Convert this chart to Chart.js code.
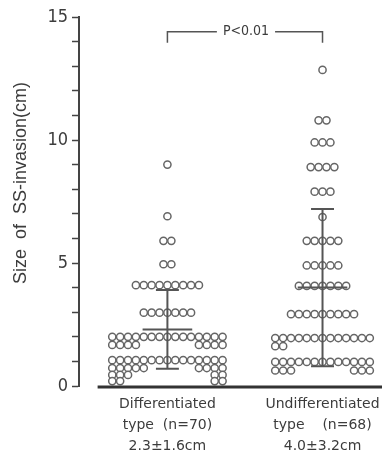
<!DOCTYPE html>
<html>
<head>
<meta charset="utf-8">
<script src="https://cdn.jsdelivr.net/npm/chart.js@4.4.1/dist/chart.umd.min.js"></script>
<style>
  html, body { margin: 0; padding: 0; background: #fff; }
  #wrap { width: 382px; height: 462px; position: relative; }
</style>
</head>
<body>
<div id="wrap"><canvas id="dotChart"></canvas></div>
<script>
// --- datos ---
const groupPos = [1, 2];
const groupLabels = [
  ['Differentiated', 'type  (n=70)', '2.3\u00b11.6cm'],
  ['Undifferentiated', 'type    (n=68)', '4.0\u00b13.2cm']
];
const means = [2.3, 4.0];
const sds = [1.6, 3.2];
const pText = 'P<0.01';

// filas de puntos: valor, cuantos centrados, cuantos pegados a izquierda / derecha
const diffRowY = [9, 6.9, 5.9, 4.95, 4.1, 2.98, 2.0, 1.67, 1.05, 0.73, 0.45, 0.2];
const diffRowN = [1, 1, 2, 2, 9, 7, 15, 0, 15, 0, 0, 0];
const diffRowL = [0, 0, 0, 0, 0, 0, 0, 4, 0, 5, 3, 2];
const diffRowR = [0, 0, 0, 0, 0, 0, 0, 4, 0, 4, 2, 2];

const undiffRowY = [12.85, 10.8, 9.9, 8.9, 7.9, 6.87, 5.9, 4.9, 4.07, 2.92, 1.95, 1.62, 0.98, 0.63];
const undiffRowN = [1, 2, 3, 4, 3, 1, 5, 5, 7, 9, 13, 0, 13, 0];
const undiffRowL = [0, 0, 0, 0, 0, 0, 0, 0, 0, 0, 0, 2, 0, 3];
const undiffRowR = [0, 0, 0, 0, 0, 0, 0, 0, 0, 0, 0, 0, 0, 3];

const yTickValues = [0, 5, 10, 15];

// --- layout ---
const dotStep = 0.0508;   // separacion horizontal entre puntos (unidades de x)

function buildDots(center, rowY, rowN, rowL, rowR) {
  const full = Math.max(...rowN);
  const pts = [];
  rowY.forEach((v, r) => {
    for (let j = 0; j < rowN[r]; j++) {
      pts.push({ x: center + (j - (rowN[r] - 1) / 2) * dotStep, y: v });
    }
    for (let j = 0; j < rowL[r]; j++) {
      pts.push({ x: center + (j - (full - 1) / 2) * dotStep, y: v });
    }
    for (let j = 0; j < rowR[r]; j++) {
      pts.push({ x: center + ((full - 1 - j) - (full - 1) / 2) * dotStep, y: v });
    }
  });
  return pts;
}

const dotStyle = {
  pointRadius: 3.6,
  pointBorderWidth: 1.5,
  pointBorderColor: '#666',
  pointBackgroundColor: '#ffffff',
  showLine: false
};

// Dibujo de barras de error, linea base, corchete y titulo del eje
const extras = {
  id: 'extras',
  afterDatasetsDraw(chart) {
    const ctx = chart.ctx;
    const x = chart.scales.x;
    const y = chart.scales.y;
    ctx.save();

    // barras de media +- DE
    ctx.strokeStyle = '#555';
    ctx.lineWidth = 2;
    groupPos.forEach((g, i) => {
      const cx = x.getPixelForValue(g);
      const yTop = y.getPixelForValue(means[i] + sds[i]);
      const yBot = y.getPixelForValue(means[i] - sds[i]);
      const yMean = y.getPixelForValue(means[i]);
      const capL = x.getPixelForValue(g - 0.074);
      const capR = x.getPixelForValue(g + 0.074);
      const mL = x.getPixelForValue(g - 0.16);
      const mR = x.getPixelForValue(g + 0.16);
      ctx.beginPath();
      ctx.moveTo(cx, yTop); ctx.lineTo(cx, yBot);
      ctx.moveTo(capL, yTop); ctx.lineTo(capR, yTop);
      ctx.moveTo(capL, yBot); ctx.lineTo(capR, yBot);
      ctx.moveTo(mL, yMean); ctx.lineTo(mR, yMean);
      ctx.stroke();
    });

    // linea base del eje x
    const y0 = y.getPixelForValue(0) + 1;
    ctx.strokeStyle = '#333';
    ctx.lineWidth = 3;
    ctx.beginPath();
    ctx.moveTo(x.getPixelForValue(0.55), y0);
    ctx.lineTo(chart.width, y0);
    ctx.stroke();

    // corchete P<0.01
    const by = y.getPixelForValue(14.4);
    const tipY = y.getPixelForValue(13.95);
    const bl = x.getPixelForValue(groupPos[0]);
    const br = x.getPixelForValue(groupPos[1]);
    const mid = x.getPixelForValue((groupPos[0] + groupPos[1]) / 2);
    ctx.font = '14px "DejaVu Sans Condensed", "DejaVu Sans", sans-serif';
    const tw = ctx.measureText(pText).width;
    ctx.strokeStyle = '#555';
    ctx.lineWidth = 1.5;
    ctx.beginPath();
    ctx.moveTo(bl, tipY); ctx.lineTo(bl, by); ctx.lineTo(mid - tw / 2 - 5, by);
    ctx.moveTo(mid + tw / 2 + 7, by); ctx.lineTo(br, by); ctx.lineTo(br, tipY);
    ctx.stroke();
    ctx.fillStyle = '#3c3c3c';
    ctx.textAlign = 'center';
    ctx.textBaseline = 'middle';
    ctx.fillText(pText, mid + 1, by);

    // titulo del eje y
    ctx.translate(21, 183);
    ctx.rotate(-Math.PI / 2);
    ctx.font = '18px "Liberation Sans", Arial, sans-serif';
    ctx.fillStyle = '#3c3c3c';
    ctx.fillText('Size  of  SS-invasion(cm)', 0, 0);

    ctx.restore();
  }
};

const canvas = document.getElementById('dotChart');
new Chart(canvas, {
  type: 'scatter',
  data: {
    datasets: [
      Object.assign({ label: 'Differentiated', data: buildDots(groupPos[0], diffRowY, diffRowN, diffRowL, diffRowR) }, dotStyle),
      Object.assign({ label: 'Undifferentiated', data: buildDots(groupPos[1], undiffRowY, undiffRowN, undiffRowL, undiffRowR) }, dotStyle)
    ]
  },
  options: {
    responsive: true,
    maintainAspectRatio: false,
    animation: false,
    layout: { padding: { top: 17, right: 0, left: 0, bottom: 0 } },
    plugins: { legend: { display: false }, tooltip: { enabled: false } },
    scales: {
      x: {
        type: 'linear',
        min: 0.430,
        max: 2.348,
        afterBuildTicks: s => { s.ticks = groupPos.map(v => ({ value: v })); },
        afterFit: s => { s.height = 76; s.paddingLeft = 0; s.paddingRight = 0; },
        grid: { display: false },
        border: { display: false },
        ticks: {
          padding: 0,
          color: '#3c3c3c',
          font: { family: '"DejaVu Sans", sans-serif', size: 14, lineHeight: 1.5 },
          callback: v => groupLabels[groupPos.indexOf(v)] || ''
        }
      },
      y: {
        min: 0,
        max: 15,
        afterFit: s => { s.width = 79; },
        grid: { drawOnChartArea: false, tickLength: 7, tickWidth: 1.5, tickColor: '#444' },
        border: { color: '#444', width: 2 },
        ticks: {
          stepSize: 1,
          padding: 4,
          color: '#3c3c3c',
          font: { family: '"DejaVu Sans Condensed", sans-serif', size: 18 },
          callback: v => yTickValues.includes(v) ? v : ''
        }
      }
    }
  },
  plugins: [extras]
});
</script>
</body>
</html>
